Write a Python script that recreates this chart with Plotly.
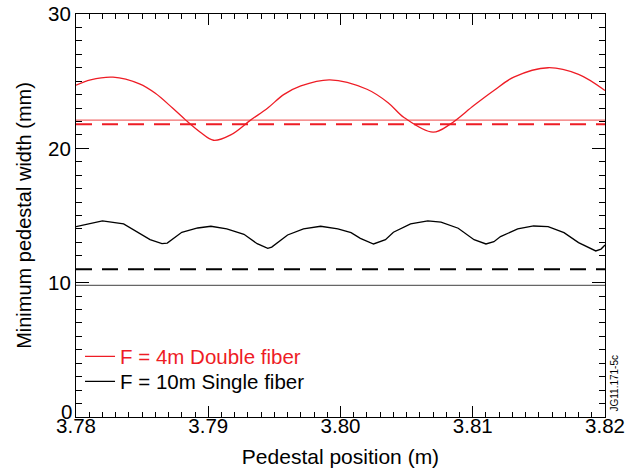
import plotly.graph_objects as go

# Data
red_x = [3.7800, 3.7811, 3.7828, 3.7848, 3.7860, 3.7873, 3.7883, 3.7894, 3.7904, 3.7917,
         3.7932, 3.7945, 3.7957, 3.7970, 3.7992, 3.8020, 3.8036, 3.8048, 3.8070, 3.8083,
         3.8101, 3.8116, 3.8131, 3.8157, 3.8180, 3.8200]
red_y = [24.7, 25.1, 25.3, 24.8, 24.1, 23.0, 22.1, 21.2, 20.6, 21.0,
         22.1, 23.0, 24.0, 24.65, 25.1, 24.4, 23.4, 22.3, 21.2, 21.8,
         23.2, 24.3, 25.3, 26.0, 25.5, 24.3]

black_x = [3.7800, 3.7820, 3.7836, 3.7847, 3.7856, 3.7865, 3.7869, 3.7880, 3.7892, 3.7902,
           3.7914, 3.7927, 3.7937, 3.7945, 3.7948, 3.7960, 3.7972, 3.7985, 3.7998, 3.8008,
           3.8015, 3.8025, 3.8034, 3.8040, 3.8053, 3.8066, 3.8076, 3.8089, 3.8101, 3.8110,
           3.8116, 3.8121, 3.8134, 3.8146, 3.8157, 3.8169, 3.8180, 3.8193, 3.8197, 3.8200]
black_y = [14.17, 14.6, 14.37, 13.75, 13.2, 12.9, 12.95, 13.75, 14.07, 14.2,
           14.0, 13.6, 12.9, 12.56, 12.65, 13.55, 14.0, 14.2, 14.0, 13.72,
           13.3, 12.88, 13.2, 13.75, 14.37, 14.6, 14.5, 14.05, 13.2, 12.88,
           13.05, 13.43, 14.0, 14.22, 14.17, 13.72, 12.98, 12.36, 12.5, 12.8]

x_range = [3.78, 3.82]
y_ticks = [0, 10, 20, 30]
red_solid_level = 22.1
red_dashed_level = 21.8
black_dashed_level = 11.0
black_solid_level = 9.8

red_name = "F = 4m Double fiber"
black_name = "F = 10m Single fiber"

RED = "#ee1c25"
FONT = "Liberation Sans, Arial, Helvetica, sans-serif"

fig = go.Figure()

# horizontal reference lines
fig.add_trace(go.Scatter(x=x_range, y=[red_solid_level] * 2, mode="lines",
                         line=dict(color="#f26d6d", width=1.2), showlegend=False, hoverinfo="skip"))
fig.add_trace(go.Scatter(x=x_range, y=[red_dashed_level] * 2, mode="lines",
                         line=dict(color=RED, width=2, dash="16px,10px"), showlegend=False, hoverinfo="skip"))
fig.add_trace(go.Scatter(x=x_range, y=[black_dashed_level] * 2, mode="lines",
                         line=dict(color="black", width=2, dash="16px,10px"), showlegend=False, hoverinfo="skip"))
fig.add_trace(go.Scatter(x=x_range, y=[black_solid_level] * 2, mode="lines",
                         line=dict(color="#666666", width=1.2), showlegend=False, hoverinfo="skip"))

# curves
fig.add_trace(go.Scatter(x=red_x, y=red_y, mode="lines", line=dict(color=RED, width=1.3, shape="spline"),
                         name='<span style="color:%s">%s</span>' % (RED, red_name), legend="legend"))
fig.add_trace(go.Scatter(x=black_x, y=black_y, mode="lines", line=dict(color="black", width=1.3),
                         name=black_name, legend="legend2"))

axis_common = dict(
    showgrid=False, zeroline=False, showline=True, linecolor="black", linewidth=1,
    mirror="allticks", ticks="inside", tickcolor="black", tickwidth=1, automargin=False,
    tickfont=dict(family=FONT, size=20.5, color="black"),
)

fig.update_xaxes(range=x_range, dtick=0.01, tick0=3.78, tickformat=".2f", ticklen=11,
                 ticklabelstandoff=-10,
                 minor=dict(ticks="inside", dtick=0.001, ticklen=5, tickcolor="black"),
                 title=dict(text="Pedestal position (m)", font=dict(family=FONT, size=21, color="black"),
                            standoff=13),
                 **axis_common)
fig.update_yaxes(range=[0, 30], tickvals=y_ticks,
                 ticktext=["" if v == 0 else str(v) for v in y_ticks], ticklen=13,
                 minor=dict(ticks="inside", dtick=1, ticklen=6, tickcolor="black"),
                 title=dict(text="Minimum pedestal width (mm)", font=dict(family=FONT, size=20, color="black"),
                            standoff=11),
                 **axis_common)

legend_common = dict(xanchor="left", yanchor="middle", bgcolor="rgba(0,0,0,0)",
                     font=dict(family=FONT, size=20.5), itemwidth=30)

fig.update_layout(
    width=626, height=472,
    margin=dict(l=76, r=21, t=14, b=55),
    paper_bgcolor="white", plot_bgcolor="white",
    font=dict(family=FONT, size=20, color="black"),
    legend=dict(x=0.0076, y=(417 - 356.5) / 403, **legend_common),
    legend2=dict(x=0.0076, y=(417 - 381.5) / 403, **legend_common),
    annotations=[
        dict(text="JG11.171-5c", x=1.0, y=0.0, xref="paper", yref="paper",
             xanchor="center", yanchor="bottom", xshift=9, yshift=3, textangle=-90,
             showarrow=False, font=dict(family=FONT, size=10, color="black")),
        dict(text=str(y_ticks[0]), x=0.0, y=y_ticks[0], xref="paper", yref="y",
             xanchor="right", yanchor="middle", xshift=-2, yshift=6, showarrow=False,
             font=dict(family=FONT, size=20.5, color="black")),
    ],
)

fig.write_html("out.html", config={"displayModeBar": False},
               post_script="document.body.style.margin='0';")
